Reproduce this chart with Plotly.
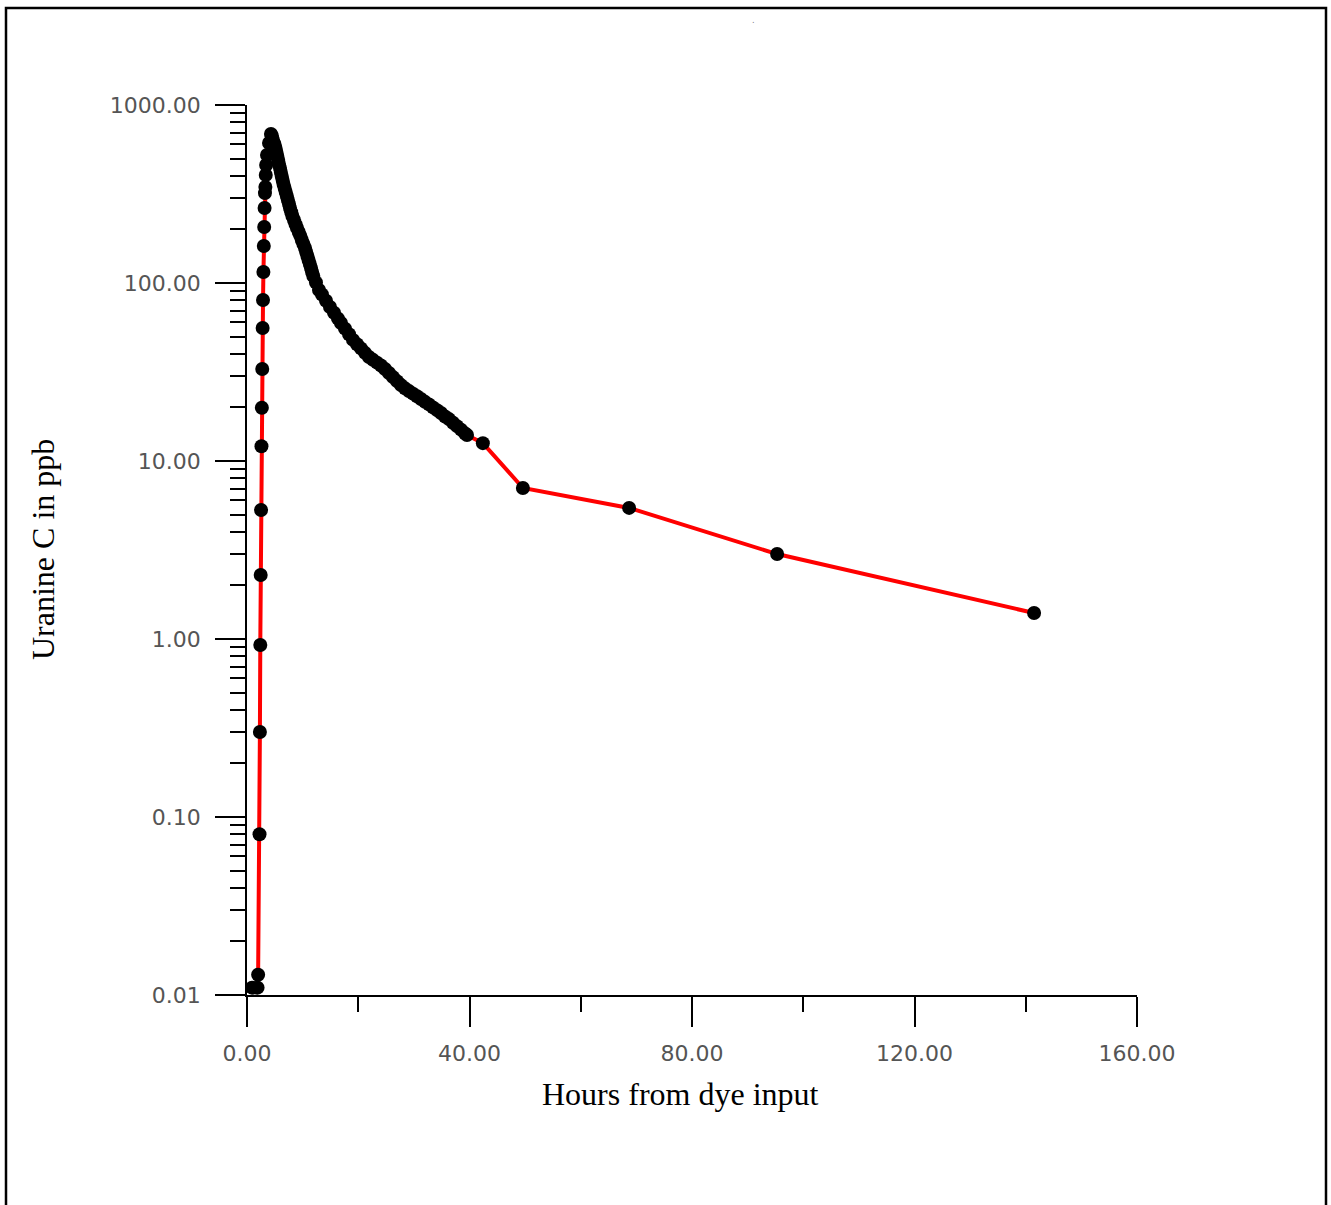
import plotly.graph_objects as go

# Hours from dye input
hours = [
    0.9, 1.9, 2.0,
    2.25, 2.32, 2.39, 2.46, 2.53, 2.60, 2.67, 2.74, 2.81, 2.88, 2.95, 3.02, 3.09, 3.16,
    3.23, 3.30, 3.37, 3.44, 3.60, 3.96, 4.31,
    4.49, 4.67, 4.94, 5.13, 5.29, 5.45, 5.61, 5.75, 5.93, 6.08, 6.24, 6.40, 6.56, 6.76,
    6.96, 7.16, 7.35, 7.55, 7.73, 7.95, 8.16, 8.45, 8.72, 8.99, 9.30, 9.58, 9.85, 10.14,
    10.43, 10.64, 10.86, 11.07, 11.29, 11.51, 11.70, 11.92, 12.40, 12.94, 13.48, 14.20,
    14.92, 15.64, 16.36, 16.90, 17.62, 18.34, 19.06, 19.78, 20.49, 21.21, 21.93, 22.65,
    23.37, 24.09, 24.81, 25.53, 26.25, 26.97, 27.69, 28.40, 29.12, 29.84, 30.56, 31.28,
    32.00, 32.72, 33.44, 34.16, 34.88, 35.60, 36.31, 37.03, 37.75, 38.47, 39.19, 39.55,
    42.4, 49.6, 68.7, 95.3, 141.5,
]

# Uranine C in ppb
uranine = [
    0.011, 0.011, 0.013,
    0.080, 0.30, 0.925, 2.29, 5.31, 12.1, 19.9, 32.9, 55.9, 80.2, 115.3, 161.5, 206.4, 264,
    320, 346, 404, 460, 524, 612, 687,
    670, 636, 604, 573, 545, 517, 491, 466, 443, 421, 399, 379, 360, 342,
    325, 308, 293, 278, 264, 250, 238, 226, 214, 204, 193.5, 184, 174.5, 165.6,
    157.3, 149.3, 141.8, 134.6, 127.8, 121.4, 115.3, 109.5, 100.7, 91.4, 86.1, 79.5,
    73.3, 68.0, 63.1, 59.6, 55.4, 51.5, 47.9, 45.3, 42.9, 40.5, 38.4, 37.0,
    35.7, 34.4, 32.9, 31.2, 29.6, 28.1, 26.7, 25.6, 24.7, 23.9, 23.1, 22.3,
    21.5, 20.8, 20.0, 19.3, 18.6, 17.8, 17.2, 16.4, 15.7, 15.0, 14.3, 14.0,
    12.6, 7.05, 5.45, 3.0, 1.40,
]

x_tick_vals = [0, 40, 80, 120, 160]
x_tick_text = ["0.00", "40.00", "80.00", "120.00", "160.00"]
x_minor_vals = [20, 60, 100, 140]

y_tick_vals = [0.01, 0.1, 1, 10, 100, 1000]
y_tick_text = ["0.01", "0.10", "1.00", "10.00", "100.00", "1000.00"]
y_minor_vals = [m * d for d in [0.01, 0.1, 1, 10, 100] for m in range(2, 10)]

fig = go.Figure()
fig.add_trace(go.Scatter(
    x=hours, y=uranine, mode="lines+markers",
    line=dict(color="#ff0000", width=4),
    marker=dict(color="#000000", size=14),
    showlegend=False, cliponaxis=False,
))

tick_font = dict(family="DejaVu Sans", size=22, color="#555555")

fig.update_layout(
    width=1331, height=1205, autosize=False,
    margin=dict(l=247, r=194, t=105, b=210),
    paper_bgcolor="white", plot_bgcolor="white",
    xaxis=dict(
        range=[0, 160], showgrid=False, zeroline=False,
        showline=True, linecolor="black", linewidth=1.5,
        tickmode="array", tickvals=x_tick_vals, ticktext=x_tick_text,
        ticks="outside", ticklen=30, tickwidth=1.5, tickcolor="black",
        ticklabelstandoff=8,
        minor=dict(tickvals=x_minor_vals, ticks="outside", ticklen=15,
                   tickwidth=1.5, tickcolor="black", showgrid=False),
        tickfont=tick_font,
    ),
    yaxis=dict(
        type="log", range=[-2, 3], showgrid=False, zeroline=False,
        showline=True, linecolor="black", linewidth=1.5,
        tickmode="array", tickvals=y_tick_vals, ticktext=y_tick_text,
        ticks="outside", ticklen=30, tickwidth=1.5, tickcolor="black",
        ticklabelstandoff=10,
        minor=dict(tickvals=y_minor_vals, ticks="outside", ticklen=15,
                   tickwidth=1.5, tickcolor="black", showgrid=False),
        tickfont=tick_font,
    ),
    annotations=[
        dict(text="Hours from dye input", xref="paper", yref="paper",
             x=0.4876, y=-0.1112, xanchor="center", yanchor="middle",
             showarrow=False,
             font=dict(family="Liberation Serif", size=32, color="black")),
        dict(text="Uranine C in ppb", xref="paper", yref="paper",
             x=-0.2292, y=0.5, xanchor="center", yanchor="middle",
             textangle=-90, showarrow=False,
             font=dict(family="Liberation Serif", size=32, color="black")),
        dict(text=".", xref="paper", yref="paper",
             x=(753 - 247) / 890, y=(995 - 20) / 890, xanchor="center",
             yanchor="middle", showarrow=False,
             font=dict(family="DejaVu Sans", size=8, color="#777777")),
    ],
    shapes=[
        dict(type="rect", xref="paper", yref="paper",
             x0=(6 - 247) / 890, x1=(1326 - 247) / 890,
             y0=(995 - 1230) / 890, y1=(995 - 8) / 890,
             line=dict(color="black", width=2.5), fillcolor="rgba(0,0,0,0)"),
    ],
)

fig.write_html(
    "out.html",
    config={"displayModeBar": False},
    post_script="document.body.style.margin='0';document.body.style.overflow='hidden';",
)
